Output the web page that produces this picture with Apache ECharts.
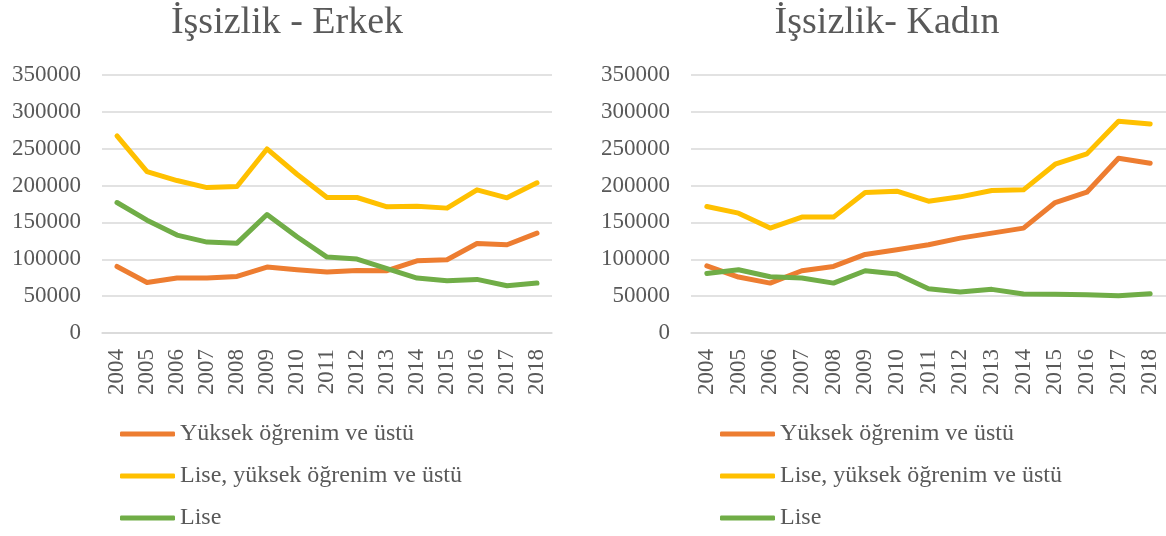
<!DOCTYPE html>
<html>
<head>
<meta charset="utf-8">
<script src="https://cdn.jsdelivr.net/npm/echarts@6/dist/echarts.min.js"></script>
<style>
html,body{margin:0;padding:0;background:#fff;}
#c{width:1166px;height:536px;}
</style>
</head>
<body>
<div id="c"></div>
<script>
const years = ['2004','2005','2006','2007','2008','2009','2010','2011','2012','2013','2014','2015','2016','2017','2018'];
const seriesNames = ['Yüksek öğrenim ve üstü', 'Lise, yüksek öğrenim ve üstü', 'Lise'];
const titles = ['İşsizlik - Erkek', 'İşsizlik- Kadın'];

// Erkek
const erkekYuksek = [90300, 68600, 74500, 74500, 76800, 89400, 85800, 82600, 84900, 84500, 98000, 99400, 121500, 119700, 135500];
const erkekLiseYuksek = [267300, 219000, 206800, 197300, 198700, 249700, 215400, 183800, 183800, 171200, 172000, 169400, 194200, 183400, 203700];
const erkekLise = [177000, 153100, 132800, 123300, 121900, 160800, 130500, 103000, 100300, 87200, 74500, 70900, 72700, 64100, 67700];

// Kadın
const kadinYuksek = [91200, 75900, 67700, 84400, 90300, 106600, 112900, 119700, 128700, 135500, 142300, 177000, 191000, 237100, 230300];
const kadinLiseYuksek = [171600, 162600, 142300, 157200, 157200, 190600, 192400, 178800, 184700, 193300, 194200, 229000, 243000, 287200, 283600];
const kadinLise = [80800, 85800, 76300, 74500, 67700, 84400, 79900, 60100, 55500, 59200, 52800, 52400, 51900, 50600, 53300];

const colors = ['#ED7D31', '#FFC000', '#70AD47'];
const FONT = '"Liberation Serif", "DejaVu Serif", serif';
const TXT = '#595959';

const chart = echarts.init(document.getElementById('c'));

function xAxis(gi) {
  return {
    type: 'category', gridIndex: gi, data: years, boundaryGap: true,
    axisLine: {show: true, lineStyle: {color: '#D9D9D9', width: 1.5}},
    axisTick: {show: false},
    axisLabel: {rotate: 90, margin: 16, color: TXT, fontFamily: FONT, fontSize: 23, interval: 0}
  };
}
function yAxis(gi) {
  return {
    type: 'value', gridIndex: gi, min: 0, max: 350000, interval: 50000,
    axisLine: {show: false}, axisTick: {show: false},
    splitLine: {lineStyle: {color: '#D9D9D9', width: 1.5}},
    axisLabel: {margin: 21, color: TXT, fontFamily: FONT, fontSize: 23, formatter: v => String(v)}
  };
}
function line(name, data, gi, color) {
  return {
    name: name, type: 'line', xAxisIndex: gi, yAxisIndex: gi, data: data,
    showSymbol: false, symbol: 'none', smooth: false,
    lineStyle: {color: color, width: 5, cap: 'round', join: 'round'},
    itemStyle: {color: color},
    emphasis: {disabled: true}
  };
}
function legend(left) {
  return {
    orient: 'vertical', left: left, top: 422, padding: 0, itemWidth: 55, itemHeight: 5, itemGap: 18,
    icon: 'roundRect', selectedMode: false,
    data: seriesNames,
    textStyle: {color: TXT, fontFamily: FONT, fontSize: 24, lineHeight: 24}
  };
}

chart.setOption({
  animation: false,
  backgroundColor: '#fff',
  title: [
    {text: titles[0], left: 287, top: 4, padding: 0, textAlign: 'center', textStyle: {color: TXT, fontFamily: FONT, fontSize: 38, fontWeight: 'normal'}},
    {text: titles[1], left: 887, top: 4, padding: 0, textAlign: 'center', textStyle: {color: TXT, fontFamily: FONT, fontSize: 38, fontWeight: 'normal'}}
  ],
  legend: [legend(120), legend(720)],
  grid: [
    {left: 102, right: 614, top: 75, bottom: 203, containLabel: false},
    {left: 691, right: 0, top: 75, bottom: 203, containLabel: false}
  ],
  xAxis: [xAxis(0), xAxis(1)],
  yAxis: [yAxis(0), yAxis(1)],
  series: [
    line(seriesNames[0], erkekYuksek, 0, colors[0]),
    line(seriesNames[1], erkekLiseYuksek, 0, colors[1]),
    line(seriesNames[2], erkekLise, 0, colors[2]),
    line(seriesNames[0], kadinYuksek, 1, colors[0]),
    line(seriesNames[1], kadinLiseYuksek, 1, colors[1]),
    line(seriesNames[2], kadinLise, 1, colors[2])
  ]
});
</script>
</body>
</html>
